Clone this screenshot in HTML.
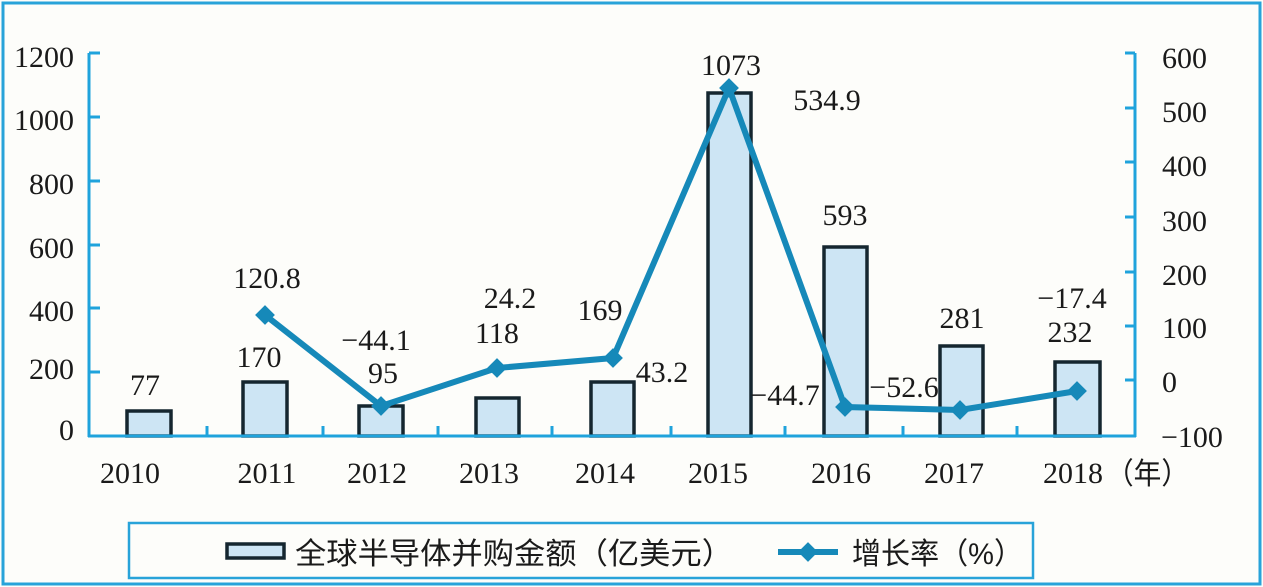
<!DOCTYPE html>
<html><head><meta charset="utf-8"><style>
html,body{margin:0;padding:0;background:#fdfdfa;}
svg{display:block;}
.n{font-family:"Liberation Serif","Noto Serif CJK SC",serif;font-size:30px;fill:#1a1a1a;}
.c{font-family:"Liberation Sans","Noto Sans CJK SC",sans-serif;font-size:30px;fill:#1a1a1a;}
</style></head><body>
<svg width="1263" height="587" viewBox="0 0 1263 587" xmlns="http://www.w3.org/2000/svg">
<rect x="0" y="0" width="1263" height="587" fill="#fdfdfa"/>
<!-- outer frame -->
<rect x="3" y="3" width="1257" height="581" fill="none" stroke="#28a3d9" stroke-width="3"/>
<!-- bars -->
<g fill="#cde5f4" stroke="#15262f" stroke-width="3.5">
<rect x="127" y="411" width="44" height="25"/>
<rect x="243" y="382" width="44" height="54"/>
<rect x="359" y="406" width="44" height="30"/>
<rect x="476" y="398" width="43" height="38"/>
<rect x="591" y="382" width="43" height="54"/>
<rect x="708" y="93" width="43" height="343"/>
<rect x="824" y="247" width="43" height="189"/>
<rect x="940" y="346" width="43" height="90"/>
<rect x="1055" y="362" width="45" height="74"/>
</g>
<!-- axes -->
<g stroke="#1fa3dc" stroke-width="3" fill="none">
<line x1="89" y1="53" x2="89" y2="437"/>
<line x1="88" y1="436" x2="1136" y2="436"/>
<line x1="1135" y1="53" x2="1135" y2="437"/>
<line x1="89" y1="53" x2="100" y2="53"/>
<line x1="89" y1="117" x2="100" y2="117"/>
<line x1="89" y1="181" x2="100" y2="181"/>
<line x1="89" y1="245" x2="100" y2="245"/>
<line x1="89" y1="308" x2="100" y2="308"/>
<line x1="89" y1="372" x2="100" y2="372"/>
<line x1="1135" y1="53" x2="1125" y2="53"/>
<line x1="1135" y1="108" x2="1125" y2="108"/>
<line x1="1135" y1="162" x2="1125" y2="162"/>
<line x1="1135" y1="217" x2="1125" y2="217"/>
<line x1="1135" y1="272" x2="1125" y2="272"/>
<line x1="1135" y1="326" x2="1125" y2="326"/>
<line x1="1135" y1="380" x2="1125" y2="380"/>
<line x1="207" y1="436" x2="207" y2="426"/>
<line x1="323" y1="436" x2="323" y2="426"/>
<line x1="438" y1="436" x2="438" y2="426"/>
<line x1="552" y1="436" x2="552" y2="426"/>
<line x1="671" y1="436" x2="671" y2="426"/>
<line x1="785" y1="436" x2="785" y2="426"/>
<line x1="903" y1="436" x2="903" y2="426"/>
<line x1="1017" y1="436" x2="1017" y2="426"/>
</g>
<!-- growth line -->
<polyline points="265,315 381,406 497,368 613,358 729,88 845,407 960,410 1077,391" fill="none" stroke="#1689b9" stroke-width="6" stroke-linejoin="miter"/>
<g fill="#1689b9">
<rect x="258" y="308" width="14" height="14" transform="rotate(45 265 315)"/>
<rect x="374" y="399" width="14" height="14" transform="rotate(45 381 406)"/>
<rect x="490" y="361" width="14" height="14" transform="rotate(45 497 368)"/>
<rect x="606" y="351" width="14" height="14" transform="rotate(45 613 358)"/>
<rect x="722" y="81" width="14" height="14" transform="rotate(45 729 88)"/>
<rect x="838" y="400" width="14" height="14" transform="rotate(45 845 407)"/>
<rect x="953" y="403" width="14" height="14" transform="rotate(45 960 410)"/>
<rect x="1070" y="384" width="14" height="14" transform="rotate(45 1077 391)"/>
</g>
<!-- left axis labels -->
<g class="n" text-anchor="end">
<text x="74" y="67">1200</text>
<text x="74" y="130">1000</text>
<text x="74" y="194">800</text>
<text x="74" y="258">600</text>
<text x="74" y="321">400</text>
<text x="74" y="379">200</text>
<text x="74" y="440">0</text>
</g>
<!-- right axis labels -->
<g class="n" text-anchor="start">
<text x="1162" y="68">600</text>
<text x="1162" y="122">500</text>
<text x="1162" y="176">400</text>
<text x="1162" y="231">300</text>
<text x="1162" y="285">200</text>
<text x="1162" y="338">100</text>
<text x="1162" y="392">0</text>
<text x="1161" y="447">−100</text>
</g>
<!-- x labels -->
<g class="n" text-anchor="middle">
<text x="130" y="483">2010</text>
<text x="267" y="483">2011</text>
<text x="377" y="483">2012</text>
<text x="489" y="483">2013</text>
<text x="605" y="483">2014</text>
<text x="718" y="483">2015</text>
<text x="841" y="483">2016</text>
<text x="954" y="483">2017</text>
<text x="1073" y="483">2018</text>
</g>
<text class="c" x="1106" y="484" textLength="83" lengthAdjust="spacingAndGlyphs">（年）</text>
<!-- data labels -->
<g class="n" text-anchor="middle">
<text x="145" y="395">77</text>
<text x="259" y="367">170</text>
<text x="267" y="288">120.8</text>
<text x="376" y="350">−44.1</text>
<text x="383" y="383">95</text>
<text x="510" y="308">24.2</text>
<text x="497" y="343">118</text>
<text x="600" y="320">169</text>
<text x="662" y="382">43.2</text>
<text x="731" y="75">1073</text>
<text x="827" y="110">534.9</text>
<text x="845" y="225">593</text>
<text x="785" y="405">−44.7</text>
<text x="904" y="397">−52.6</text>
<text x="962" y="328">281</text>
<text x="1072" y="308">−17.4</text>
<text x="1070" y="342">232</text>
</g>
<!-- legend -->
<rect x="129" y="523" width="904" height="55" fill="#fdfdfa" stroke="#28a3d9" stroke-width="2.5"/>
<rect x="227" y="544" width="57" height="14" fill="#cde5f4" stroke="#15262f" stroke-width="3.5"/>
<text class="c" x="295" y="564" textLength="438" lengthAdjust="spacingAndGlyphs">全球半导体并购金额（亿美元）</text>
<line x1="778" y1="552" x2="838" y2="552" stroke="#1689b9" stroke-width="6"/>
<rect x="801" y="545" width="14" height="14" fill="#1689b9" transform="rotate(45 808 552)"/>
<text class="c" x="852" y="564" textLength="171" lengthAdjust="spacingAndGlyphs">增长率（%）</text>
</svg>
</body></html>
